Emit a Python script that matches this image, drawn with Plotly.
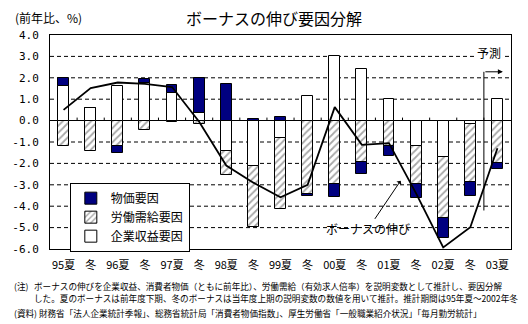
import plotly.graph_objects as go

# Half-year periods (summer / winter bonus)
periods = ["95夏", "冬", "96夏", "冬", "97夏", "冬", "98夏", "冬", "99夏",
           "冬", "00夏", "冬", "01夏", "冬", "02夏", "冬", "03夏"]

# Contribution of each factor (percentage points)
profit_factor = [1.64, 0.58, 1.61, 1.75, 1.28, 0.35, -1.40, -2.11, -0.82,
                 1.17, 3.03, 2.42, 1.02, -1.18, -1.71, -0.15, 1.02]
labor_factor = [-1.21, -1.44, -1.18, -0.43, -0.05, -0.15, -1.13, -2.84, -3.32,
                -3.42, -2.97, -1.94, -1.21, -1.79, -2.85, -2.73, -1.96]
price_factor = [0.35, 0.00, -0.34, 0.20, 0.39, 1.64, 1.72, 0.08, 0.16,
                -0.10, -0.61, -0.55, -0.44, -0.65, -0.93, -0.62, -0.31]

# Bonus growth, year on year (%)
bonus_growth = [0.50, 1.52, 1.78, 1.72, 1.57, -0.05, -2.10, -2.90, -3.58,
                -3.00, 0.63, -1.13, -1.05, -3.40, -5.93, -4.98, -1.29]

y_ticks = [-6, -5, -4, -3, -2, -1, 0, 1, 2, 3, 4]
forecast_from = 16  # index of the first forecast period

x = list(range(len(periods)))
JP = "Noto Sans CJK JP"
NAVY = "#000080"

fig = go.Figure()

fig.add_trace(go.Bar(
    x=x, y=profit_factor, name="企業収益要因", width=0.4,
    marker=dict(color="white", line=dict(color="black", width=1)),
))
fig.add_trace(go.Bar(
    x=x, y=labor_factor, name="労働需給要因", width=0.4,
    marker=dict(color="white", line=dict(color="black", width=1),
                pattern=dict(shape="/", fgcolor="#505050", bgcolor="white",
                             size=5, solidity=0.35)),
))
fig.add_trace(go.Bar(
    x=x, y=price_factor, name="物価要因", width=0.4,
    marker=dict(color=NAVY, line=dict(color="black", width=1)),
))
fig.add_trace(go.Scatter(
    x=x, y=bonus_growth, mode="lines", name="ボーナスの伸び",
    line=dict(color="black", width=1.8), showlegend=False,
))

# dashed horizontal reference lines, drawn beneath the bars
for v in y_ticks:
    if v in (0, y_ticks[0], y_ticks[-1]):
        continue
    fig.add_shape(type="line", xref="paper", yref="y", x0=0, x1=1, y0=v, y1=v,
                  layer="below", line=dict(color="black", width=1, dash="4px,3px"))

# small upward ticks on the zero line at period boundaries
for k in range(1, len(periods)):
    fig.add_shape(type="line", xref="x", yref="y", x0=k - 0.5, x1=k - 0.5,
                  ysizemode="pixel", yanchor=0, y0=0, y1=3,
                  line=dict(color="black", width=1))

# forecast marker: vertical bar with arrow to the right
fx = forecast_from - 0.5
fig.add_shape(type="line", xref="x", yref="y", x0=fx, x1=fx, y0=-4.2, y1=2.28,
              line=dict(color="black", width=1))
fig.add_annotation(x=forecast_from + 0.2, y=2.28, ax=fx, ay=2.28,
                   xref="x", yref="y", axref="x", ayref="y", text="",
                   showarrow=True, arrowhead=2, arrowsize=1, arrowwidth=1,
                   arrowcolor="black", standoff=0)
fig.add_annotation(x=forecast_from - 0.31, y=3.2, xref="x", yref="y", text="予測",
                   xanchor="center", yanchor="middle",
                   showarrow=False, bgcolor="white",
                   font=dict(family=JP, size=12, color="black"))

# label pointing at the bonus line
fig.add_annotation(x=12.43, y=-2.81, ax=11.23, ay=-5.06,
                   xref="x", yref="y", axref="x", ayref="y",
                   text="ボーナスの伸び", showarrow=True, arrowhead=1,
                   arrowsize=1, arrowwidth=1, arrowcolor="black",
                   font=dict(family=JP, size=12, color="black"))

# title and unit
fig.add_annotation(x=0.486, y=1.079, xref="paper", yref="paper",
                   xanchor="center", yanchor="middle",
                   text="ボーナスの伸び要因分解", showarrow=False,
                   font=dict(family=JP, size=16, color="black"))
fig.add_annotation(x=-0.0803, y=1.084, xref="paper", yref="paper",
                   xanchor="left", yanchor="middle", text="(前年比、%)", showarrow=False,
                   font=dict(family=JP, size=12, color="black"))

# notes and sources
note_font = dict(family=JP, size=8.6, color="black")
notes = [
    (-0.0803, -0.1730, "(注)"),
    (-0.0369, -0.1730, "ボーナスの伸びを企業収益、消費者物価（ともに前年比）、労働需給（有効求人倍率）を説明変数として推計し、要因分解"),
    (-0.0369, -0.2290, "した。夏のボーナスは前年度下期、冬のボーナスは当年度上期の説明変数の数値を用いて推計。推計期間は95年夏～2002年冬"),
    (-0.0803, -0.2990, "(資料) 財務省「法人企業統計季報」、総務省統計局「消費者物価指数」、厚生労働省「一般職業紹介状況」「毎月勤労統計」"),
]
for nx, ny, txt in notes:
    fig.add_annotation(x=nx, y=ny, xref="paper", yref="paper", xanchor="left",
                       yanchor="middle", text=txt, showarrow=False,
                       borderpad=0, font=note_font)

fig.update_layout(
    width=528, height=324,
    margin=dict(l=50, r=17, t=35, b=75),
    paper_bgcolor="white", plot_bgcolor="white",
    barmode="relative", bargap=0,
    showlegend=True,
    legend=dict(x=0.043, y=0.31, xanchor="left", yanchor="top",
                traceorder="reversed", bgcolor="white",
                bordercolor="black", borderwidth=1, tracegroupgap=0,
                itemwidth=30,
                font=dict(family=JP, size=12, color="black")),
    xaxis=dict(range=[-0.5, len(periods) - 0.5], tickvals=x, ticktext=periods,
               showgrid=False, showline=True, linecolor="black", linewidth=1,
               mirror=True, ticks="", ticklabelstandoff=6,
               tickfont=dict(family=JP, size=11, color="black")),
    yaxis=dict(range=[-6, 4], tickvals=y_ticks,
               ticktext=[f"{v:.1f}" for v in y_ticks],
               showgrid=False,
               zeroline=True, zerolinecolor="black", zerolinewidth=1,
               showline=True, linecolor="black", linewidth=1, mirror=True,
               ticks="", ticklabelstandoff=8,
               tickfont=dict(family="DejaVu Sans Mono", size=11, color="black")),
)

fig.write_html("out.html")
